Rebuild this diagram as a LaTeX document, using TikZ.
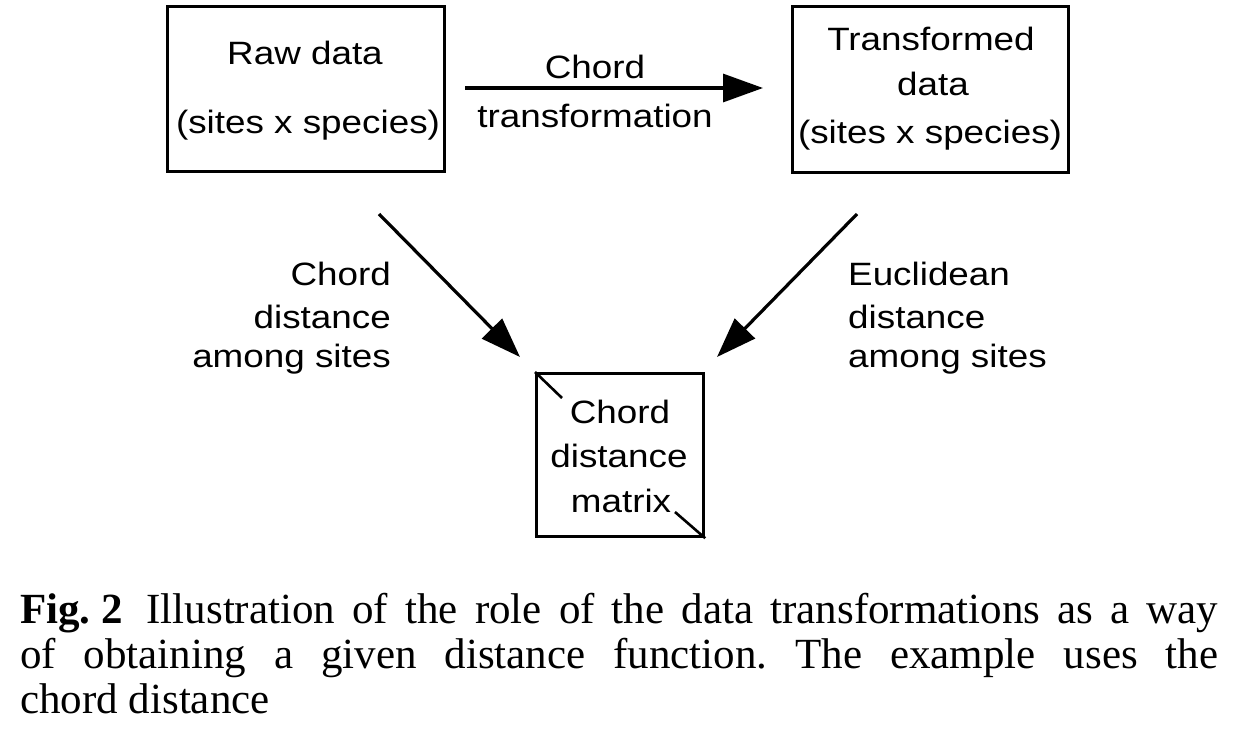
\documentclass[tikz,border=0pt]{standalone}
\usepackage{fontspec}
\setmainfont{Liberation Serif}
\newfontfamily\diagfont[FakeStretch=1.14]{Liberation Sans}
\usetikzlibrary{arrows.meta}
\begin{document}
\begin{tikzpicture}[x=1pt,y=-1pt,
  box/.style={draw,line width=3.2pt,inner sep=0pt,anchor=north west},
  lbl/.style={inner sep=0pt,font=\diagfont\fontsize{32.3}{45}\selectfont},
  conn/.style={line width=3.2pt,-{Triangle[length=40pt,width=28pt]}},
  captxt/.style={inner sep=0pt,anchor=base west,font=\frenchspacing\fontsize{43}{45}\selectfont}]
\useasboundingbox (0,0) rectangle (1240,736);
% boxes
\node[box,minimum width=277pt,minimum height=165pt] (raw) at (166,5) {};
\node[box,minimum width=276pt,minimum height=166pt] (trans) at (791,5) {};
\node[box,minimum width=167pt,minimum height=163pt] (mat) at (535,372) {};
% box texts
\node[lbl,anchor=base] (rawa) at (305,64) {Raw data};
\node[lbl,anchor=base] (rawb) at (308,133) {(sites x species)};
\node[lbl,anchor=base] (tra) at (931,50) {Transformed};
\node[lbl,anchor=base] (trb) at (933,95) {data};
\node[lbl,anchor=base] (trc) at (930,143) {(sites x species)};
\node[lbl,anchor=base] (mata) at (620,423) {Chord};
\node[lbl,anchor=base] (matb) at (619,467) {distance};
\node[lbl,anchor=base] (matc) at (621,512) {matrix};
% matrix ticks
\coordinate (t1) at (562,398);
\coordinate (t2) at (675,512);
\draw[line width=2.6pt] (mat.north west) -- (t1);
\draw[line width=2.6pt] (t2) -- (mat.south east);
% arrows
\coordinate (h1) at (465,88);
\coordinate (h2) at (763,88);
\draw[conn] (h1) -- (h2);
\node[lbl,anchor=base] (ch) at (595,78) {Chord};
\node[lbl,anchor=base] (tf) at (595,127) {transformation};
\coordinate (l1) at (379,214);
\coordinate (l2) at (520,357);
\draw[conn] (l1) -- (l2);
\coordinate (r1) at (857,214);
\coordinate (r2) at (717,357);
\draw[conn] (r1) -- (r2);
% side labels
\node[lbl,anchor=base east] (la) at (391,285) {Chord};
\node[lbl,anchor=base east] (lb) at (391,328) {distance};
\node[lbl,anchor=base east] (lc) at (391,367) {among sites};
\node[lbl,anchor=base west] (ra) at (848,285) {Euclidean};
\node[lbl,anchor=base west] (rb) at (848,328) {distance};
\node[lbl,anchor=base west] (rc) at (848,367) {among sites};
% caption
\node[captxt] (c1) at (20,623) {\makebox[1198pt][s]{\textbf{Fig.\kern0.25em2}\kern0.55em Illustration of the role of the data transformations as a way}};
\node[captxt] (c2) at (20,668) {\makebox[1198pt][s]{of obtaining a given distance function. The example uses the}};
\node[captxt] (c3) at (20,713) {chord distance};
\end{tikzpicture}
\end{document}
